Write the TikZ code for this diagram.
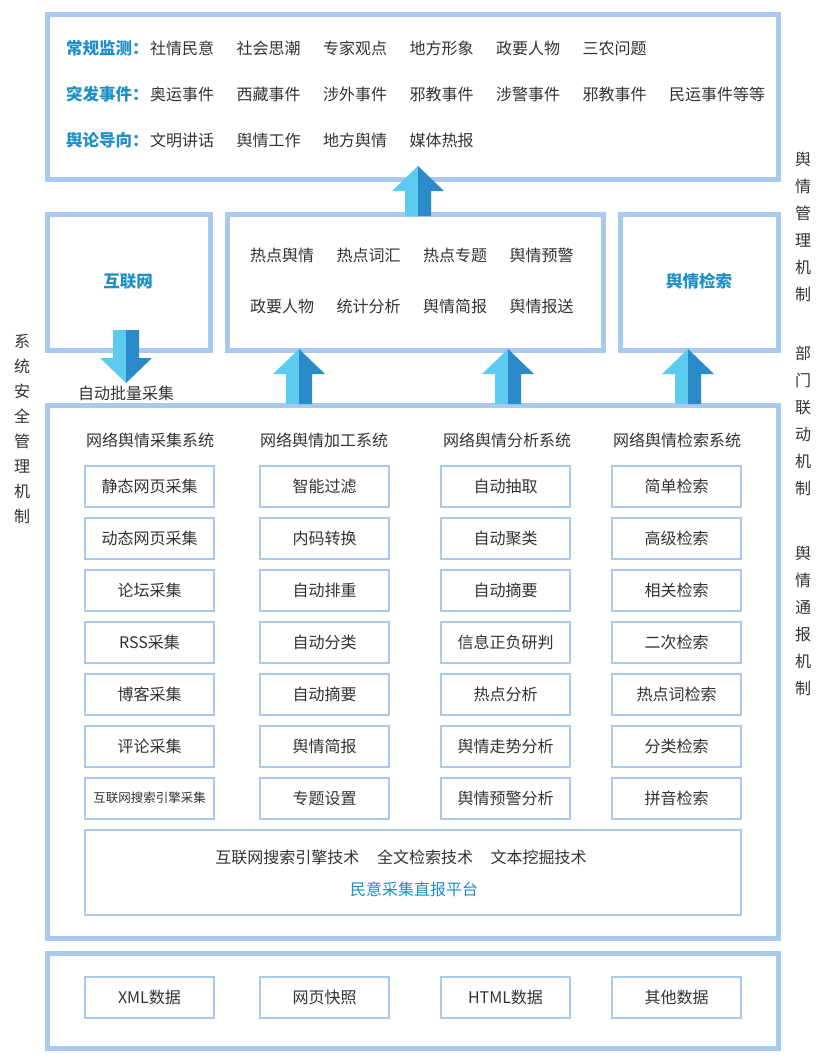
\documentclass[tikz,border=0pt]{standalone}
\usepackage{fontspec}
\setmainfont{Noto Sans CJK SC}
\begin{document}
\begin{tikzpicture}[x=1pt,y=-1pt,
  frame/.style={draw=fr,line width=5pt},
  ibox/.style={draw=fr,line width=2pt,minimum width=129pt,minimum height=41pt,font=\fontsize{16}{18}\selectfont,text=tx,inner sep=0pt},
  t/.style={font=\fontsize{16}{18}\selectfont,text=tx,inner sep=0pt},
  bl/.style={font=\bfseries\fontsize{16.5}{18}\selectfont,text=bt,inner sep=0pt},
  vt/.style={font=\fontsize{16}{27}\selectfont,text=tx,align=center,inner sep=0pt}]
\definecolor{fr}{HTML}{A9C9EE}
\definecolor{tx}{HTML}{333333}
\definecolor{bt}{HTML}{1E90C8}
\definecolor{al}{HTML}{5CCBEF}
\definecolor{ad}{HTML}{2B8AC8}
\useasboundingbox (0,0) rectangle (827,1058);
\fill[white] (0,0) rectangle (827,1058);
% frames
\draw[frame] (47,14) rectangle (778,179);
\draw[frame] (47,214) rectangle (210,350);
\draw[frame] (227,214) rectangle (603,350);
\draw[frame] (620,214) rectangle (778,350);
\draw[frame] (47,405) rectangle (778,938);
\draw[frame] (47,953) rectangle (778,1048);
% arrows
\newcommand\uparr[3]{% x, ytip, ybase
  \fill[al] (#1,#2) -- (#1-26,#2+25) -- (#1-13,#2+25) -- (#1-13,#3) -- (#1,#3) -- cycle;
  \fill[ad] (#1,#2) -- (#1+26,#2+25) -- (#1+13,#2+25) -- (#1+13,#3) -- (#1,#3) -- cycle;}
\uparr{418}{166}{216}
\uparr{299}{349}{404}
\uparr{508}{349}{404}
\uparr{688}{349}{404}
\fill[al] (126,383) -- (100,358) -- (113,358) -- (113,330) -- (126,330) -- cycle;
\fill[ad] (126,383) -- (152,358) -- (139,358) -- (139,330) -- (126,330) -- cycle;
% top box
\node[bl,anchor=west] (l1) at (66,48) {常规监测：};
\node[bl,anchor=west] (l2) at (66,94) {突发事件：};
\node[bl,anchor=west] (l3) at (66,140) {舆论导向：};
\foreach \s [count=\i] in {社情民意,社会思潮,专家观点,地方形象,政要人物,三农问题}
  \node[t,anchor=west] (a\i) at ({150+86.5*(\i-1)},48) {\s};
\foreach \s [count=\i] in {奥运事件,西藏事件,涉外事件,邪教事件,涉警事件,邪教事件,民运事件等等}
  \node[t,anchor=west] (b\i) at ({150+86.5*(\i-1)},94) {\s};
\foreach \s [count=\i] in {文明讲话,舆情工作,地方舆情,媒体热报}
  \node[t,anchor=west] (c\i) at ({150+86.5*(\i-1)},140) {\s};
% middle row
\node[bl] (net) at (128,281) {互联网};
\node[bl] (srch) at (699,281) {舆情检索};
\foreach \s [count=\i] in {热点舆情,热点词汇,热点专题,舆情预警}
  \node[t,anchor=west] (m\i) at ({250+86.5*(\i-1)},255) {\s};
\foreach \s [count=\i] in {政要人物,统计分析,舆情简报,舆情报送}
  \node[t,anchor=west] (n\i) at ({250+86.5*(\i-1)},306) {\s};
\node[t] (auto) at (126,393) {自动批量采集};
% columns
\node[t] (h1) at (150,440) {网络舆情采集系统};
\node[t] (h2) at (324,440) {网络舆情加工系统};
\node[t] (h3) at (507,440) {网络舆情分析系统};
\node[t] (h4) at (677,440) {网络舆情检索系统};
\foreach \s [count=\i] in {静态网页采集,动态网页采集,论坛采集,RSS采集,博客采集,评论采集}
  \node[ibox] (p\i) at (149.5,{486+52*(\i-1)}) {\s};
\node[ibox,font=\fontsize{12.5}{14}\selectfont] (p7) at (149.5,798) {互联网搜索引擎采集};
\foreach \s [count=\i] in {智能过滤,内码转换,自动排重,自动分类,自动摘要,舆情简报,专题设置}
  \node[ibox] (q\i) at (324.5,{486+52*(\i-1)}) {\s};
\foreach \s [count=\i] in {自动抽取,自动聚类,自动摘要,信息正负研判,热点分析,舆情走势分析,舆情预警分析}
  \node[ibox] (r\i) at (505.5,{486+52*(\i-1)}) {\s};
\foreach \s [count=\i] in {简单检索,高级检索,相关检索,二次检索,热点词检索,分类检索,拼音检索}
  \node[ibox] (s\i) at (676.5,{486+52*(\i-1)}) {\s};
\node[draw=fr,line width=2pt,minimum width=656pt,minimum height=85pt] (plat) at (413,872.5) {};
\node[t] (tech) at (401,857) {互联网搜索引擎技术\hspace{1.1em}全文检索技术\hspace{1.1em}文本挖掘技术};
\node[t,text=bt] (pf) at (414,889) {民意采集直报平台};
% bottom
\foreach \s/\x [count=\i] in {XML数据/149.5,网页快照/324.5,HTML数据/505.5,其他数据/676.5}
  \node[ibox] (d\i) at (\x,997) {\s};
% vertical labels
\node[vt] (v1) at (803,227) {舆\\情\\管\\理\\机\\制};
\node[vt] (v2) at (803,421) {部\\门\\联\\动\\机\\制};
\node[vt] (v3) at (803,621) {舆\\情\\通\\报\\机\\制};
\node[vt,font=\fontsize{16}{25}\selectfont] (v4) at (22,429) {系\\统\\安\\全\\管\\理\\机\\制};
\end{tikzpicture}
\end{document}
